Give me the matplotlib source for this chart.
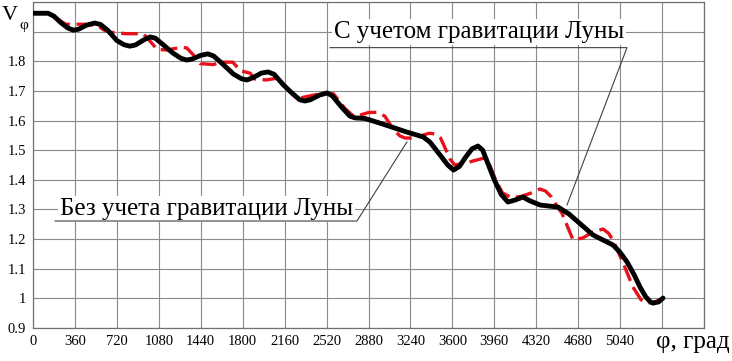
import matplotlib.pyplot as plt
import numpy as np

# angle (deg) and V_phi
phi_moon = [0, 130, 180, 240, 300, 345, 390, 460, 530, 580, 640, 720, 780, 830, 880,
            950, 1005, 1050, 1120, 1200, 1270, 1320, 1370, 1440, 1500, 1550, 1630,
            1720, 1790, 1837, 1890, 1960, 2017, 2070, 2150, 2230, 2290, 2335, 2380,
            2460, 2525, 2570, 2650, 2720, 2764, 2850, 3004, 3210, 3348, 3408, 3494,
            3560, 3610, 3660, 3720, 3770, 3820, 3860, 3910, 3960, 4020, 4077, 4140,
            4206, 4260, 4352, 4507, 4600, 4807, 4979, 5040, 5099, 5160, 5211, 5260,
            5300, 5322, 5370, 5408]
v_moon = [1.962, 1.962, 1.952, 1.930, 1.912, 1.905, 1.908, 1.922, 1.929, 1.924, 1.905,
          1.870, 1.856, 1.851, 1.855, 1.872, 1.882, 1.878, 1.855, 1.828, 1.810, 1.804,
          1.808, 1.820, 1.825, 1.818, 1.790, 1.757, 1.741, 1.737, 1.745, 1.760, 1.764,
          1.756, 1.720, 1.690, 1.670, 1.666, 1.670, 1.686, 1.693, 1.683, 1.645, 1.615,
          1.609, 1.607, 1.588, 1.561, 1.545, 1.527, 1.484, 1.450, 1.433, 1.445, 1.480,
          1.505, 1.514, 1.500, 1.450, 1.400, 1.350, 1.325, 1.332, 1.342, 1.330, 1.315,
          1.308, 1.285, 1.214, 1.180, 1.155, 1.123, 1.080, 1.038, 1.005, 0.988, 0.984,
          0.988, 1.001]

phi_nomoon = [0, 130, 200, 280, 430, 549, 610, 660, 800, 945, 1000, 1065, 1150, 1270,
              1320, 1380, 1435, 1545, 1630, 1715, 1780, 1863, 1905, 2000, 2100, 2200,
              2290, 2400, 2500, 2580, 2680, 2760, 2820, 2880, 2950, 3020, 3090, 3150,
              3195, 3280, 3340, 3400, 3450, 3500, 3580, 3620, 3720, 3800, 3880, 3920,
              3970, 4030, 4110, 4200, 4280, 4352, 4400, 4450, 4500, 4540, 4580, 4636,
              4720, 4807, 4893, 4940, 4979, 5065, 5150, 5220, 5271, 5340, 5408]
v_nomoon = [1.962, 1.962, 1.945, 1.925, 1.925, 1.922, 1.905, 1.898, 1.893, 1.893, 1.870,
            1.840, 1.838, 1.847, 1.845, 1.820, 1.792, 1.789, 1.797, 1.797, 1.768, 1.760,
            1.740, 1.737, 1.743, 1.700, 1.676, 1.685, 1.693, 1.690, 1.640, 1.612, 1.620,
            1.627, 1.628, 1.615, 1.572, 1.548, 1.541, 1.541, 1.550, 1.557, 1.555, 1.540,
            1.470, 1.450, 1.457, 1.466, 1.474, 1.450, 1.400, 1.356, 1.339, 1.345, 1.356,
            1.369, 1.362, 1.342, 1.310, 1.288, 1.250, 1.197, 1.204, 1.224, 1.234, 1.220,
            1.197, 1.120, 1.038, 0.995, 0.984, 0.988, 1.001]

x_ticks = np.arange(0, 5761, 360)
x_labels = [str(v) if v <= 5040 else "" for v in x_ticks]
y_ticks = np.round(np.arange(0.9, 2.001, 0.1), 1)
y_labels = [f"{v:g}" if v <= 1.8 else "" for v in y_ticks]

plt.rcParams["font.family"] = ["Liberation Serif", "DejaVu Serif"]

fig = plt.figure(figsize=(7.32, 3.61), dpi=100)
ax = fig.add_axes([33 / 732, 33 / 361, 671 / 732, 326 / 361])

ax.plot(phi_nomoon, v_nomoon, color="#e8101a", lw=2.4, dashes=(5, 2), zorder=3)
ax.plot(phi_moon, v_moon, color="black", lw=3.5, solid_joinstyle="round",
        solid_capstyle="round", zorder=4)

ax.set_xlim(0, 5760)
ax.set_ylim(0.9, 2.0)
ax.set_xticks(x_ticks)
ax.set_xticklabels(x_labels, fontsize=10.5)
ax.set_yticks(y_ticks)
ax.set_yticklabels(y_labels, fontsize=10.5)
ax.tick_params(length=0, pad=5)
ax.grid(True, color="#8a8a8a", lw=0.8)
ax.set_axisbelow(True)
for s in ax.spines.values():
    s.set_color("#707070")
    s.set_linewidth(0.9)

# annotations with underline + leader
ax.text(3830, 1.879, "С учетом гравитации Луны", fontsize=18, ha="center",
        va="baseline", zorder=5,
        bbox=dict(facecolor="white", edgecolor="none", pad=1.5))
ax.plot([2550, 5099, 4584], [1.846, 1.846, 1.315], color="#404040", lw=0.8, zorder=6)

ax.text(1490, 1.281, "Без учета гравитации Луны", fontsize=18, ha="center",
        va="baseline", zorder=5,
        bbox=dict(facecolor="white", edgecolor="none", pad=1.5))
ax.plot([189, 2781, 3210], [1.261, 1.261, 1.528], color="#404040", lw=0.8, zorder=6)

fig.text(2 / 732, 1 - 20 / 361, "V", fontsize=16, ha="left", va="baseline")
fig.text(19 / 732, 1 - 29 / 361, "φ", fontsize=11, ha="left", va="baseline")
fig.text(730 / 732, 1 - 348 / 361, "φ, град", fontsize=18, ha="right", va="baseline")

fig.savefig("out.png", dpi=100)
